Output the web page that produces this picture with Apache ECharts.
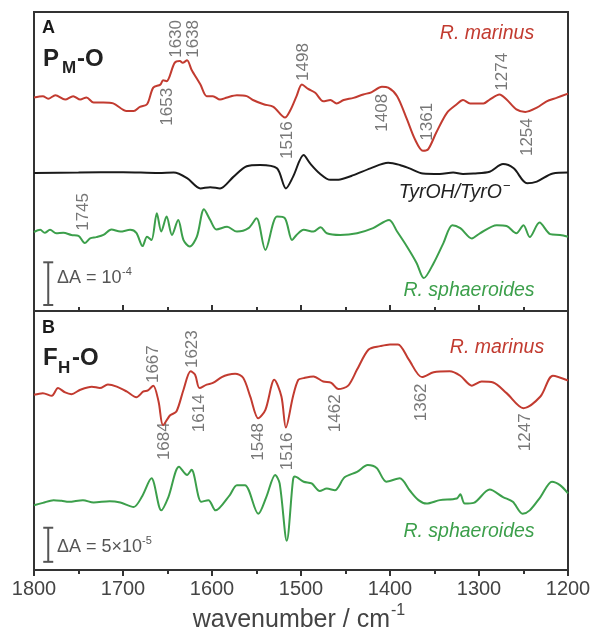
<!DOCTYPE html>
<html lang="en">
<head>
<meta charset="UTF-8">
<title>FTIR difference spectra</title>
<style>
  * { margin: 0; padding: 0; }
  html, body { width: 100%; height: 100%; background: #fff; }
  #chart { width: 593px; height: 632px; }
</style>
</head>
<body>
<div id="chart"></div>
<script src="https://cdn.jsdelivr.net/npm/echarts@6/dist/echarts.min.js"></script>
<script>
// spectra in units of 1e-5 absorbance, relative to each trace's baseline
const marinusA = [[1800,0],[1790,0.3],[1784,-0.3],[1776,0.5],[1765,-0.5],[1756,0.3],[1748,-0.5],[1741,0],[1733,-1.2],[1722,-1.2],[1711,-1.4],[1696,-3.2],[1688,-3.2],[1681,-2.2],[1673,-1.6],[1666,2.3],[1658,3.0],[1655,4.0],[1651,3.8],[1642,8.1],[1636,8.5],[1633,8.1],[1628,8.7],[1623,6.5],[1613,3.0],[1606,0.3],[1599,0.3],[1591,-0.5],[1583,0],[1572,0.5],[1561,0.3],[1554,-0.6],[1542,-1.6],[1531,-2.2],[1518,-4.7],[1512,-3.0],[1505,0.3],[1499,3.0],[1492,2.0],[1484,1.1],[1475,-0.9],[1467,-0.6],[1460,-1.4],[1452,-0.6],[1441,-0.1],[1430,0.7],[1421,1.2],[1409,2.5],[1402,2.3],[1392,0.3],[1381,-5.1],[1372,-9.8],[1363,-12.5],[1357,-12.1],[1348,-8.2],[1336,-3.6],[1325,-1.6],[1318,-0.6],[1310,-1.4],[1295,-1.4],[1288,-0.5],[1277,0.7],[1269,-0.5],[1258,-2.8],[1248,-3.4],[1235,-2.4],[1224,-0.9],[1213,-0.1],[1200,0.9]];

const tyrosineA = [[1800,0],[1750,0.1],[1700,0.2],[1660,0],[1643,0.1],[1628,-1.2],[1613,-3.6],[1602,-3.3],[1591,-3.6],[1576,-0.9],[1561,1.6],[1546,1.9],[1527,1.1],[1517,-3.6],[1509,-0.9],[1497,4.2],[1490,2.3],[1479,-0.1],[1467,-1.6],[1456,-1.5],[1441,-0.5],[1422,1.1],[1402,2.4],[1389,1.9],[1378,1.1],[1363,-0.1],[1344,-0.2],[1329,0.1],[1318,-0.2],[1306,-0.1],[1288,0.3],[1273,2.1],[1261,1.1],[1246,-2.4],[1235,-2.0],[1217,-0.1],[1200,0.1]];

const sphaeroidesA = [[1800,0],[1793,0.5],[1788,-0.2],[1782,0.5],[1775,-0.3],[1767,-0.2],[1758,-0.7],[1750,-0.9],[1743,-2.6],[1737,-1.5],[1730,-1.2],[1722,-0.7],[1713,0.6],[1703,0.1],[1692,0.5],[1685,-0.2],[1678,-3.3],[1673,-1.1],[1668,-1.9],[1662,4.4],[1657,0.1],[1651,3.6],[1645,-0.7],[1638,2.8],[1632,-1.9],[1625,-3.4],[1617,-1.1],[1609,5.3],[1602,2.8],[1595,0.6],[1583,1.2],[1572,0.1],[1559,0.9],[1550,3.2],[1540,-4.2],[1527,3.6],[1518,3.2],[1510,-1.9],[1505,-0.7],[1497,0.5],[1486,0.1],[1478,1.1],[1471,-0.3],[1456,-0.7],[1437,-0.3],[1419,0.9],[1401,2.8],[1392,0.1],[1381,-3.4],[1370,-7.3],[1362,-10.8],[1351,-7.3],[1340,-2.6],[1330,1.6],[1321,0.9],[1308,-1.5],[1299,-0.3],[1280,1.6],[1269,1.4],[1258,-0.3],[1250,1.6],[1243,-1.2],[1232,2.2],[1220,-0.5],[1209,-0.7],[1200,-1.1]];

const marinusB = [[1800,0],[1790,0.25],[1780,-0.15],[1773,1.0],[1765,0.35],[1758,0.1],[1748,0.75],[1735,1.2],[1726,1.0],[1717,1.5],[1707,1.2],[1696,0.5],[1685,-0.35],[1677,0.5],[1672,0.65],[1666,1.35],[1660,-1.0],[1655,-4.45],[1647,-3.0],[1640,-2.45],[1632,0.75],[1624,3.45],[1619,2.95],[1614,1.0],[1606,1.5],[1599,1.75],[1589,2.6],[1582,2.95],[1574,3.1],[1565,2.5],[1557,-0.25],[1548,-3.45],[1540,-2.2],[1530,2.2],[1522,-0.25],[1517,-4.8],[1509,-0.25],[1503,2.2],[1497,2.45],[1486,2.7],[1475,1.95],[1466,1.75],[1458,0.85],[1447,1.35],[1437,3.7],[1424,6.65],[1411,7.15],[1400,7.4],[1391,7.4],[1379,5.2],[1364,2.6],[1351,3.3],[1333,3.45],[1321,2.8],[1308,1.35],[1297,1.95],[1284,1.8],[1269,0.25],[1250,-1.95],[1231,-0.25],[1217,2.8],[1200,2.1]];

const sphaeroidesB = [[1800,0],[1790,0.35],[1778,0.75],[1769,0.65],[1761,0.5],[1745,0.75],[1733,0.4],[1715,0.6],[1703,0.4],[1688,-0.25],[1679,1.2],[1668,3.95],[1657,-0.75],[1649,1.2],[1637,5.65],[1628,4.45],[1623,5.2],[1612,0.5],[1604,0.75],[1596,-0.75],[1580,1.5],[1572,2.95],[1563,2.95],[1548,-1.25],[1539,1.2],[1529,4.45],[1524,3.2],[1516,-5.2],[1509,3.7],[1507,4.2],[1497,3.45],[1488,3.2],[1479,2.1],[1471,2.45],[1462,2.2],[1451,4.1],[1437,4.9],[1425,5.9],[1415,5.45],[1404,3.45],[1389,3.95],[1378,2.2],[1368,0.75],[1359,0.25],[1344,0.75],[1325,1.0],[1321,1.6],[1316,0.25],[1306,0.35],[1288,2.3],[1273,1.2],[1262,0.5],[1251,-1.25],[1243,-0.75],[1231,1.2],[1218,3.45],[1209,2.95],[1200,1.75]];

// vertical stacking of the traces (1e-5 units)
const offsetsA = [50, 32.3, 18.5];
const offsetsB = [25.7, 9.5];

// peak annotations: [text, wavenumber, level]
const peaksA = [['1630',1640.4,63.7],['1638',1621.3,63.7],['1653',1650.6,47.8],['1516',1515.7,40.0],['1498',1497.8,58.3],['1408',1409,46.4],['1361',1358.4,44.3],['1274',1274.2,56.0],['1254',1246.1,40.7],['1745',1744.9,23.2]];
const peaksB = [['1667',1666.3,30.2],['1623',1622.5,32.4],['1614',1614.6,23.0],['1684',1653.9,18.9],['1548',1548.3,18.8],['1516',1515.7,17.4],['1462',1461.8,23.0],['1362',1365.2,24.6],['1247',1248.3,20.2]];

// scale bars: [wavenumber, start, length]
const scaleBarA = [[1784, 1.4, 10]];
const scaleBarB = [[1784, 1.2, 5]];

const RED = '#c23b30';
const GREEN = '#3c9f4b';
const BLACK = '#1a1a1a';
const GREY = '#555';
const FONT = '"Liberation Sans", Arial, sans-serif';

function shift(data, off) {
  return data.map(d => [d[0], d[1] + off]);
}

function trace(data, off, color, idx) {
  return {
    type: 'line', xAxisIndex: idx, yAxisIndex: idx,
    data: shift(data, off), smooth: 0.3, showSymbol: false,
    lineStyle: { color: color, width: 2 }, silent: true
  };
}

function peakLabels(list, idx) {
  return {
    type: 'scatter', xAxisIndex: idx, yAxisIndex: idx, symbolSize: 1,
    itemStyle: { color: 'transparent' }, silent: true,
    data: list.map(p => ({ name: p[0], value: [p[1], p[2]] })),
    label: { show: true, formatter: '{b}', rotate: 90, position: 'inside',
      fontSize: 17, color: GREY, fontFamily: FONT }
  };
}

function scaleBar(bar, idx) {
  return {
    type: 'custom', xAxisIndex: idx, yAxisIndex: idx, silent: true,
    data: bar.map(b => [b[0], b[1], b[1] + b[2]]),
    encode: { x: 0, y: [1, 2] },
    renderItem: function (params, api) {
      const p0 = api.coord([api.value(0), api.value(1)]);
      const p1 = api.coord([api.value(0), api.value(2)]);
      const st = { stroke: GREY, lineWidth: 2 };
      return { type: 'group', children: [
        { type: 'line', shape: { x1: p0[0], y1: p0[1], x2: p1[0], y2: p1[1] }, style: st },
        { type: 'line', shape: { x1: p0[0] - 5, y1: p0[1], x2: p0[0] + 5, y2: p0[1] }, style: st },
        { type: 'line', shape: { x1: p1[0] - 5, y1: p1[1], x2: p1[0] + 5, y2: p1[1] }, style: st }
      ]};
    }
  };
}

function txt(x, y, text, size, opts) {
  opts = opts || {};
  return { type: 'text', x: x, y: y, silent: true, style: {
    text: text, fontSize: size, fontFamily: FONT,
    fontWeight: opts.weight || 'normal', fontStyle: opts.style || 'normal',
    fill: opts.color || BLACK, align: opts.align || 'left', verticalAlign: 'middle'
  }};
}

const chart = echarts.init(document.getElementById('chart'));

const xBase = { type: 'value', min: 1200, max: 1800, inverse: true, interval: 100 };

chart.setOption({
  animation: false,
  grid: [
    { left: 34, top: 12, width: 534, height: 299, show: true, borderColor: '#333', borderWidth: 2, outerBoundsMode: 'none' },
    { left: 34, top: 311, width: 534, height: 259, show: true, borderColor: '#333', borderWidth: 2, outerBoundsMode: 'none' }
  ],
  xAxis: [
    Object.assign({}, xBase, { gridIndex: 0,
      axisLine: { show: false }, axisLabel: { show: false }, splitLine: { show: false },
      axisTick: { inside: true, length: 6, lineStyle: { color: '#333', width: 2 } },
      minorTick: { show: true, splitNumber: 2, length: 4, lineStyle: { color: '#333', width: 2 } } }),
    Object.assign({}, xBase, { gridIndex: 1,
      axisLine: { show: false }, splitLine: { show: false },
      axisTick: { inside: false, length: 6, lineStyle: { color: '#333', width: 2 } },
      minorTick: { show: true, splitNumber: 2, length: 4, lineStyle: { color: '#333', width: 2 } },
      axisLabel: { fontSize: 20, color: '#444', fontFamily: FONT, margin: 9,
        formatter: v => String(v) } })
  ],
  yAxis: [
    { type: 'value', gridIndex: 0, min: 0, max: 70, show: false },
    { type: 'value', gridIndex: 1, min: 0, max: 38, show: false }
  ],
  series: [
    trace(marinusA, offsetsA[0], RED, 0),
    trace(tyrosineA, offsetsA[1], BLACK, 0),
    trace(sphaeroidesA, offsetsA[2], GREEN, 0),
    trace(marinusB, offsetsB[0], RED, 1),
    trace(sphaeroidesB, offsetsB[1], GREEN, 1),
    peakLabels(peaksA, 0),
    peakLabels(peaksB, 1),
    scaleBar(scaleBarA, 0),
    scaleBar(scaleBarB, 1)
  ],
  graphic: [
    txt(42, 28, 'A', 18, { weight: 'bold' }),
    txt(43, 59, 'P', 24, { weight: 'bold', color: '#222' }),
    txt(62, 68, 'M', 17, { weight: 'bold', color: '#222' }),
    txt(77, 59, '-O', 24, { weight: 'bold', color: '#222' }),
    txt(42, 328, 'B', 18, { weight: 'bold' }),
    txt(43, 358, 'F', 24, { weight: 'bold', color: '#222' }),
    txt(58, 368, 'H', 17, { weight: 'bold', color: '#222' }),
    txt(72, 358, '-O', 24, { weight: 'bold', color: '#222' }),
    txt(487, 34, 'R. marinus', 19.5, { style: 'italic', color: RED, align: 'center' }),
    txt(502, 193, 'TyrOH/TyrO', 19.5, { style: 'italic', color: '#222', align: 'right' }),
    txt(503, 186, '\u2212', 13, { color: '#222' }),
    txt(469, 291, 'R. sphaeroides', 19.5, { style: 'italic', color: GREEN, align: 'center' }),
    txt(497, 348, 'R. marinus', 19.5, { style: 'italic', color: RED, align: 'center' }),
    txt(469, 532, 'R. sphaeroides', 19.5, { style: 'italic', color: GREEN, align: 'center' }),
    txt(57, 278, '\u0394A = 10', 18, { color: GREY }),
    txt(122, 272, '-4', 11, { color: GREY }),
    txt(57, 547, '\u0394A = 5\u00d710', 18, { color: GREY }),
    txt(142, 541, '-5', 11, { color: GREY }),
    txt(390, 620, 'wavenumber / cm', 25, { color: '#444', align: 'right' }),
    txt(391, 611, '-1', 16, { color: '#444' })
  ]
});
</script>
</body>
</html>
